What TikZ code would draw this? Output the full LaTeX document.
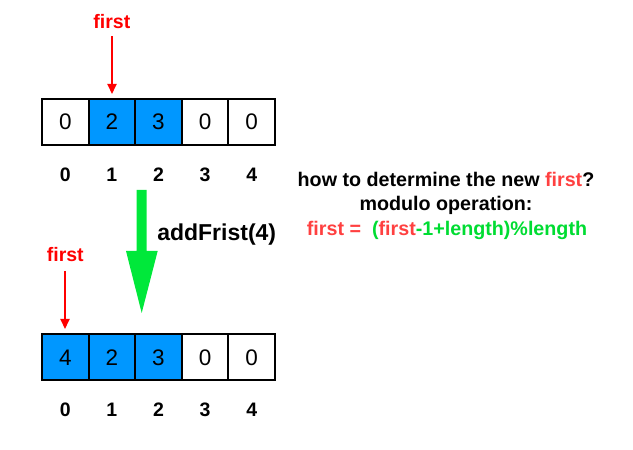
\documentclass[tikz,border=0pt]{standalone}
\usepackage{fontspec}
\setmainfont{Liberation Sans}
\usetikzlibrary{arrows.meta}
\definecolor{cellblue}{RGB}{0,151,255}
\definecolor{ptrred}{RGB}{255,0,0}
\definecolor{txtred}{RGB}{255,64,64}
\definecolor{txtgreen}{RGB}{0,220,50}
\definecolor{arrgreen}{RGB}{0,232,58}
\begin{document}
\begin{tikzpicture}[x=1pt,y=1pt,
  cell/.style={draw=black,line width=2pt,minimum width=46.6pt,minimum height=46pt,inner sep=0pt,font=\fontsize{22.5}{25}\selectfont},
  filled/.style={cell,fill=cellblue},
  idx/.style={font=\fontsize{19.5}{22}\selectfont\bfseries,inner sep=0pt},
  ptrlabel/.style={font=\fontsize{19.5}{22}\selectfont\bfseries,text=ptrred,inner sep=0pt},
  ptr/.style={draw=ptrred,line width=2pt,-{Triangle[width=9pt,length=10pt]}},
  info/.style={font=\fontsize{19.7}{22}\selectfont\bfseries,inner sep=0pt}]
\useasboundingbox (0,0) rectangle (633,450);
% top array
\node[cell]   (t0) at (65.3,328) {0};
\node[filled] (t1) at (111.9,328) {2};
\node[filled] (t2) at (158.5,328) {3};
\node[cell]   (t3) at (205.1,328) {0};
\node[cell]   (t4) at (251.7,328) {0};
\foreach \i/\x in {0/65.3,1/111.9,2/158.5,3/205.1,4/251.7}
  \node[idx] (ti\i) at (\x,275) {\i};
\node[ptrlabel] (tf) at (111.9,428.5) {first};
\coordinate (tfs) at (112,413.5);
\coordinate (tfe) at (112,356);
\draw[ptr] (tfs) -- (tfe);
% green arrow
\fill[arrgreen] (136.7,260) -- (146.7,260) -- (146.7,199) -- (157.7,199) -- (141.7,137) -- (126,199) -- (136.7,199) -- cycle;
\node[font=\fontsize{23}{26}\selectfont\bfseries,inner sep=0pt] (op) at (216.7,215) {addFrist(4)};
% bottom array
\node[filled] (b0) at (65.3,92.5) {4};
\node[filled] (b1) at (111.9,92.5) {2};
\node[filled] (b2) at (158.5,92.5) {3};
\node[cell]   (b3) at (205.1,92.5) {0};
\node[cell]   (b4) at (251.7,92.5) {0};
\foreach \i/\x in {0/65.3,1/111.9,2/158.5,3/205.1,4/251.7}
  \node[idx] (bi\i) at (\x,40) {\i};
\node[ptrlabel] (bf) at (65.3,195) {first};
\coordinate (bfs) at (65,179);
\coordinate (bfe) at (65,121);
\draw[ptr] (bfs) -- (bfe);
% explanation
\node[info] (l1) at (446,271) {how to determine the new \textcolor{txtred}{first}?};
\node[info] (l2) at (446,244.5) {modulo operation:};
\node[info,text=txtgreen] (l3) at (447,220) {\textcolor{txtred}{first =}\ \ (\textcolor{txtred}{first}-1+length)\%length};
\end{tikzpicture}
\end{document}
